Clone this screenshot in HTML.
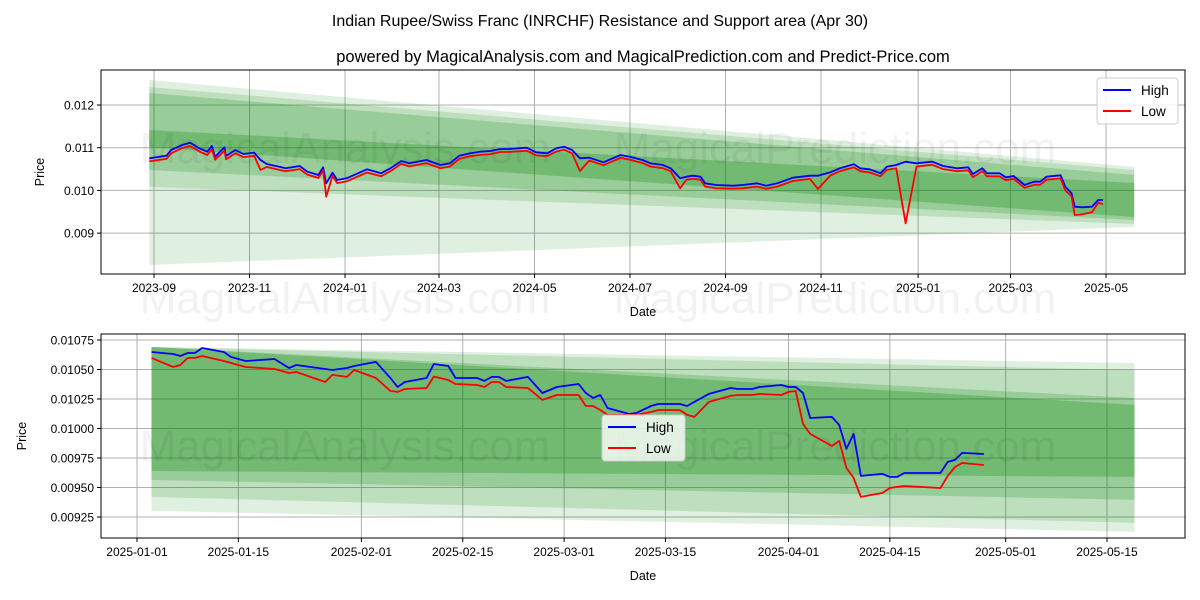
<!DOCTYPE html>
<html><head><meta charset="utf-8"><style>
body{margin:0;background:#fff;}
svg{display:block;font-family:"Liberation Sans","DejaVu Sans",sans-serif;}
</style></head><body>
<svg id="chart" width="1200" height="600" viewBox="0 0 1200 600" xmlns="http://www.w3.org/2000/svg">
<rect width="1200" height="600" fill="#fff"/>
<text x="600" y="26" text-anchor="middle" font-size="16">Indian Rupee/Swiss Franc (INRCHF) Resistance and Support area (Apr 30)</text>
<text x="643" y="62" text-anchor="middle" font-size="16.5">powered by MagicalAnalysis.com and MagicalPrediction.com and Predict-Price.com</text>
<g id="top"></g>
<g id="bot"></g>
</svg>
<script>
// ---- Top chart data (days since 2023-09-01, values in 1e-5 CHF) ----
const topDays = [-3,8,11,18,23,29,34,37,39,45,46,52,57,64,68,72,80,84,93,98,105,108,110,114,117,123,136,145,151,158,163,174,183,189,195,202,208,215,221,227,238,244,251,257,262,267,272,278,287,298,304,312,317,325,330,336,340,344,349,352,359,370,376,385,391,398,408,419,424,432,438,447,451,457,464,468,474,480,487,497,504,513,520,523,529,532,540,544,549,556,562,566,570,579,582,586,588,593,599,603,606];
const topHigh = [1075.2,1081.3,1094.6,1106.3,1111.7,1098.6,1090.6,1104,1078.9,1100.9,1080.6,1094.6,1085.2,1088.3,1071.2,1061.8,1055.5,1051.8,1057.1,1043.8,1036.1,1054.1,1016.6,1041.4,1024.3,1028.3,1049.4,1040,1051.8,1068.8,1063.5,1071.2,1059.5,1063.5,1081.3,1086.9,1090.6,1092.3,1097,1097,1100,1089.2,1086.9,1098.6,1102.3,1094.6,1075.2,1076.6,1065.8,1082.9,1078.9,1071.2,1063.5,1059.5,1051.8,1028.3,1032.1,1034.4,1032.1,1016.6,1012.6,1011,1012.6,1016.6,1011,1016.6,1029.7,1034.4,1034.4,1042.4,1051.8,1061.1,1051.8,1049.4,1040,1055.5,1059.5,1067.2,1063.5,1067.2,1057.1,1051.8,1054.1,1038.4,1051.8,1040,1040,1030.7,1033.7,1012.6,1020.4,1020.4,1032.1,1035.4,1008.7,993.2,961.8,960.4,961.8,977.5,977.5];
const topLow = [1068,1074,1087,1099,1104,1091,1083,1096,1072,1093,1073,1087,1078,1081,1047.8,1055,1048,1045,1050,1037,1029,1047,985.2,1034,1017,1021,1042,1033,1045,1062,1056,1064,1052,1056,1074,1080,1083,1085,1090,1090,1093,1082,1080,1091,1095,1087,1045.4,1070,1059,1076,1072,1064,1056,1052,1045,1005,1025,1027,1025,1009,1005,1004,1005,1009,1004,1009,1022,1027,1003.3,1035,1045,1054,1045,1042,1033,1048,1052,922.9,1056,1060,1050,1045,1047,1031,1045,1033,1033,1024,1027,1006,1013,1013,1025,1028,1000,986,942.4,944,948.7,971.2,968];
const topBandStart = -3, topBandEnd = 626;
const topBands = [[1258.6,1054.8,825.3,914.3],[1242.2,1047.8,1008,921.3],[1228.1,1036,1047.8,930.7],[1141.5,1017.3,1101.6,937.7]];
const topYTicks = [1200,1100,1000,900];
const topYLabels = ["0.012","0.011","0.010","0.009"];
const topXTickDays = [0,61,122,182,243,304,365,426,488,547,608];
const topXLabels = ["2023-09","2023-11","2024-01","2024-03","2024-05","2024-07","2024-09","2024-11","2025-01","2025-03","2025-05"];

// ---- Bottom chart data (days since 2025-01-01) ----
const botDays = [2,5,6,7,8,9,12,13,15,19,21,22,26,27,29,30,33,35,36,37,40,41,43,44,47,48,49,50,51,54,56,58,61,62,63,64,65,68,69,71,72,75,76,77,79,82,83,85,86,89,90,91,92,93,96,97,98,99,100,103,104,105,106,111,112,113,114,117];
const botHigh = [1064.8,1063.1,1061.4,1064,1064,1068.2,1064.8,1060.6,1057.2,1058.9,1051.3,1053.8,1050.4,1049.6,1051.3,1053,1056.4,1042.8,1035.2,1039.4,1042.8,1054.7,1053,1042.8,1042.8,1040.3,1043.7,1043.7,1040.3,1043.7,1030.1,1035.2,1037.7,1030.1,1025.9,1028.4,1017.4,1012.3,1013.2,1019.1,1020.8,1020.8,1019.1,1022.5,1029.3,1034.3,1033.5,1033.5,1035.2,1036.9,1035.2,1035.2,1030.1,1008.9,1009.8,1003,982.7,995.4,959.8,961.5,959,959,962.3,962.3,971.7,973.4,979.3,978.4];
const botLow = [1059.8,1052.1,1053.8,1059.8,1059.8,1061.4,1057.2,1055.5,1052.1,1050.4,1047,1047.9,1039.4,1045.4,1043.7,1049.6,1042.8,1031.8,1031,1033.5,1034.3,1044,1041.1,1037.7,1036.9,1035.2,1039.4,1039.4,1035.2,1034.3,1024.2,1028.4,1028.4,1019.1,1019.1,1015.7,1011.5,1011.5,1011.5,1014,1015.7,1015.7,1011.5,1009.8,1022.5,1027.6,1028.4,1028.4,1029.3,1028.4,1031,1031.8,1003.9,995.4,985.2,989.5,966.6,958.1,942,945.4,949.6,950.5,951.3,949.6,959.8,967.4,970.8,969.1];
const botBandStart = 2, botBandEnd = 137.8;
const botBands = [[1069.1,1055.5,930.2,912.4],[1069.1,1049.6,942,920],[1069.1,1025.9,956.4,939.5],[1069.1,1020,964,959]];
const botYTicks = [1075,1050,1025,1000,975,950,925];
const botYLabels = ["0.01075","0.01050","0.01025","0.01000","0.00975","0.00950","0.00925"];
const botXTickDays = [0,14,31,45,59,73,90,104,120,134];
const botXLabels = ["2025-01-01","2025-01-15","2025-02-01","2025-02-15","2025-03-01","2025-03-15","2025-04-01","2025-04-15","2025-05-01","2025-05-15"];

const NS = "http://www.w3.org/2000/svg";
function mk(parent, tag, attrs, txt){
  const e = document.createElementNS(NS, tag);
  for (const k in attrs) e.setAttribute(k, attrs[k]);
  if (txt !== undefined) e.textContent = txt;
  parent.appendChild(e);
  return e;
}
const bandOpac = [0.12,0.15,0.2,0.25];

function panel(g, box, xs, ys, d){
  d.xTicks.forEach((t,i)=>{
    const x = xs(t);
    const l = mk(g,'line',{x1:x,x2:x,y1:box.t,y2:box.b,stroke:'#b0b0b0','stroke-width':1});
    
    
  });
  d.yTicks.forEach((t,i)=>{
    const y = ys(t);
    const l = mk(g,'line',{x1:box.l,x2:box.r,y1:y,y2:y,stroke:'#b0b0b0','stroke-width':1});
    
    
  });
  d.bands.forEach((b,i)=>{
    const x0 = xs(d.bs), x1 = xs(d.be);
    const p = mk(g,'polygon',{points:`${x0},${ys(b[0])} ${x1},${ys(b[1])} ${x1},${ys(b[3])} ${x0},${ys(b[2])}`,fill:'#008000','fill-opacity':bandOpac[i]});
    
    
  });
  d.wm.forEach(w=>{
    const t = mk(g,'text',{x:w[0],y:w[1],'font-size':44,fill:'#000','fill-opacity':0.05,'text-anchor':'middle'},w[2]);
    
    
  });
  const series = [[d.high,'#0000ff','high-line'],[d.low,'#ff0000','low-line']];
  series.forEach(s=>{
    const pts = d.days.map((dd,i)=>xs(dd).toFixed(1)+','+ys(s[0][i]).toFixed(1)).join(' ');
    const pl = mk(g,'polyline',{points:pts,fill:'none',stroke:s[1],'stroke-width':1.8,'stroke-linejoin':'round'});
    
    
  });
  const fr = mk(g,'rect',{x:box.l,y:box.t,width:box.r-box.l,height:box.b-box.t,fill:'none',stroke:'#000','stroke-width':1});
  
  
  d.xTicks.forEach((t,i)=>{
    const x = xs(t);
    mk(g,'line',{x1:x,x2:x,y1:box.b,y2:box.b+4,stroke:'#000'});
    const tx = mk(g,'text',{x:x,y:box.b+18,'font-size':12,'text-anchor':'middle',fill:'#000'},d.xLabels[i]);
    
    
  });
  d.yTicks.forEach((t,i)=>{
    const y = ys(t);
    mk(g,'line',{x1:box.l-4,x2:box.l,y1:y,y2:y,stroke:'#000'});
    const tx = mk(g,'text',{x:box.l-7,y:y+4.5,'font-size':12,'text-anchor':'end',fill:'#000'},d.yLabels[i]);
    
    
  });
  const xl = mk(g,'text',{x:(box.l+box.r)/2,y:box.b+42,'font-size':12.5,'text-anchor':'middle'},'Date');
  
  
  const yx = d.ylx, yy=(box.t+box.b)/2;
  const yl = mk(g,'text',{x:yx,y:yy,'font-size':12.5,'text-anchor':'middle',transform:`rotate(-90 ${yx} ${yy})`},'Price');
  
  
  const L = d.legend;
  const lg = mk(g,'g',{});
  
  
  mk(lg,'rect',{x:L.x,y:L.y,width:L.w,height:46,rx:3,fill:'#fff','fill-opacity':0.8,stroke:'#ccc'});
  [['High','#0000ff',0],['Low','#ff0000',1]].forEach(e=>{
    const y = L.y+12+e[2]*21;
    const en = mk(lg,'g',{});
    
    
    mk(en,'line',{x1:L.x+6,x2:L.x+34,y1:y,y2:y,stroke:e[1],'stroke-width':2});
    mk(en,'text',{x:L.x+44,y:y+5,'font-size':13.5},e[0]);
  });
}

const topBox = {l:101,r:1185,t:70,b:274};
panel(document.getElementById('top'), topBox,
  d=>154+d*1.5658, v=>105+(1200-v)*0.427,
  {xTicks:topXTickDays,xLabels:topXLabels,yTicks:topYTicks,yLabels:topYLabels,
   bands:topBands,bs:topBandStart,be:topBandEnd,days:topDays,high:topHigh,low:topLow,
   ylx:44,legend:{x:1097,y:78,w:81},
   wm:[[345,163,'MagicalAnalysis.com'],[835,163,'MagicalPrediction.com'],[345,313,'MagicalAnalysis.com'],[835,313,'MagicalPrediction.com']]});

const botBox = {l:101,r:1185,t:334,b:538};
panel(document.getElementById('bot'), botBox,
  d=>137+d*7.2388, v=>340+(1075-v)*1.18,
  {xTicks:botXTickDays,xLabels:botXLabels,yTicks:botYTicks,yLabels:botYLabels,
   bands:botBands,bs:botBandStart,be:botBandEnd,days:botDays,high:botHigh,low:botLow,
   ylx:26,legend:{x:602,y:415,w:83},
   wm:[[345,461,'MagicalAnalysis.com'],[835,461,'MagicalPrediction.com']]});
</script>
</body></html>
